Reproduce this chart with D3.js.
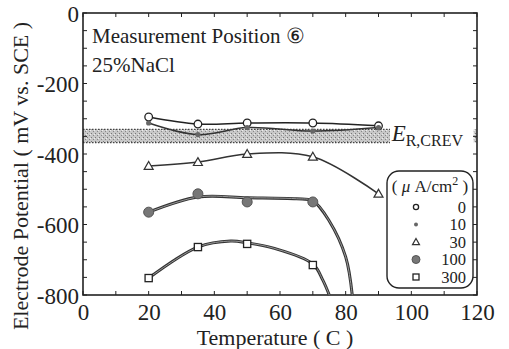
<!DOCTYPE html>
<html>
<head>
<meta charset="utf-8">
<script src="https://cdn.jsdelivr.net/npm/d3@7"></script>
<style>
  body { margin: 0; background: #fff; }
  svg text { font-family: "Liberation Serif", "DejaVu Serif", serif !important; fill: #222; }
</style>
</head>
<body>
<div id="container"></div>
<script>
// measured points (temperature C, potential mV)
let temps = [20, 35, 50, 70, 90],
  s0 = [-295, -315, -312, -312, -320],
  s10 = [-312, -345, -325, -335, -325],
  s30 = [-434, -423, -400, -408, -513],
  tempsHi = [20, 35, 50, 70],
  s100 = [-565, -513, -536, -536],
  s300 = [-752, -664, -655, -715]

// fitted curves (they run down to the axis)
let fit100 = [[20, -565], [35, -522], [50, -524], [65, -527], [70, -533], [75, -590], [80, -692], [82, -800]],
  fit300 = [[20, -752], [35, -664], [45, -647], [50, -652], [58, -667], [70, -712], [73, -757], [75, -800]]

let band = [-330, -368]   // E R,CREV band
let xTicks = [0, 20, 40, 60, 80, 100, 120],
  yTicks = [0, -200, -400, -600, -800],
  legendLabels = ['0', '10', '30', '100', '300']

let width = 509,
  height = 349,
  padding = { top: 13, left: 83, bottom: 54, right: 32 },
  w = width - padding.left - padding.right,
  h = height - padding.top - padding.bottom

let svg = d3.select('#container')
  .append('svg')
  .attr('width', width)
  .attr('height', height)

// stipple for the band
let pat = svg.append('defs').append('pattern')
  .attr('id', 'stip').attr('width', 4).attr('height', 4).attr('patternUnits', 'userSpaceOnUse')
pat.append('rect').attr('width', 4).attr('height', 4).attr('fill', '#c8c8c8')
pat.append('rect').attr('x', 0).attr('y', 0).attr('width', 1).attr('height', 1).attr('fill', '#777')
pat.append('rect').attr('x', 2).attr('y', 2).attr('width', 1).attr('height', 1).attr('fill', '#888')
pat.append('rect').attr('x', 3).attr('y', 1).attr('width', 1).attr('height', 1).attr('fill', '#eee')

let g = svg.append('g')
  .attr('transform', 'translate(' + padding.left + ',' + padding.top + ')')

let x = d3.scaleLinear().domain([0, 120]).range([0, w])
let y = d3.scaleLinear().domain([-800, 0]).range([h, 0])

// band
g.append('rect')
  .attr('x', 0).attr('width', x(93.5))
  .attr('y', y(band[0])).attr('height', y(band[1]) - y(band[0]))
  .attr('fill', 'url(#stip)')
g.append('rect')
  .attr('x', x(119)).attr('width', x(120) - x(119))
  .attr('y', y(band[0])).attr('height', y(band[1]) - y(band[0]))
  .attr('fill', 'url(#stip)')
;[band[0], band[1]].forEach(function (v) {
  g.append('line')
    .attr('x1', 0).attr('x2', x(93.5))
    .attr('y1', y(v)).attr('y2', y(v))
    .attr('stroke', '#444').attr('stroke-width', 1.2)
    .attr('stroke-dasharray', '1.5,1.5')
})

// ticks
let ticksX = d3.range(0, 121, 10), ticksY = d3.range(-800, 1, 50)
ticksX.forEach(function (t) {
  g.append('line').attr('x1', x(t)).attr('x2', x(t)).attr('y1', h).attr('y2', h - 4).attr('stroke', '#222')
  g.append('line').attr('x1', x(t)).attr('x2', x(t)).attr('y1', 0).attr('y2', 4).attr('stroke', '#222')
})
ticksY.forEach(function (t) {
  g.append('line').attr('x1', 0).attr('x2', 4).attr('y1', y(t)).attr('y2', y(t)).attr('stroke', '#222')
  g.append('line').attr('x1', w).attr('x2', w - 4).attr('y1', y(t)).attr('y2', y(t)).attr('stroke', '#222')
})

g.append('rect')
  .attr('width', w).attr('height', h)
  .attr('fill', 'none').attr('stroke', '#222').attr('stroke-width', 1.6)

let fmt = function (d) { return String(d) }
let xAxis = d3.axisBottom(x).tickValues(xTicks).tickFormat(fmt).tickSize(0).tickPadding(8)
let yAxis = d3.axisLeft(y).tickValues(yTicks).tickFormat(fmt).tickSize(0).tickPadding(4)
g.append('g').attr('transform', 'translate(0,' + h + ')').call(xAxis)
  .call(function (s) { s.select('.domain').remove() })
  .selectAll('text').style('font-size', '23px').attr('dy', '0.72em')
g.append('g').call(yAxis)
  .call(function (s) { s.select('.domain').remove() })
  .selectAll('text').style('font-size', '23px').attr('dy', '0.36em')

// lines
let line = d3.line()
  .x(function (d) { return x(d[0]) })
  .y(function (d) { return y(d[1]) })
  .curve(d3.curveCatmullRom)

let pair = function (xs, ys) { return xs.map(function (v, i) { return [v, ys[i]] }) }

g.append('path').attr('d', line(pair(temps, s0))).attr('fill', 'none').attr('stroke', '#222').attr('stroke-width', 1.5)
g.append('path').attr('d', line(pair(temps, s10))).attr('fill', 'none').attr('stroke', '#333').attr('stroke-width', 1.5)
g.append('path').attr('d', line(pair(temps, s30))).attr('fill', 'none').attr('stroke', '#333').attr('stroke-width', 1.5)
;[fit100, fit300].forEach(function (f) {
  g.append('path').attr('d', line(f)).attr('fill', 'none').attr('stroke', '#333').attr('stroke-width', 3)
  g.append('path').attr('d', line(f)).attr('fill', 'none').attr('stroke', '#999').attr('stroke-width', 1)
})

// markers
let marker = function (sel, type, cx, cy, big) {
  if (type === 0) {
    sel.append('circle').attr('cx', cx).attr('cy', cy).attr('r', big ? 3.8 : 2.6)
      .attr('fill', '#fff').attr('stroke', '#222').attr('stroke-width', 1.3)
  } else if (type === 1) {
    sel.append('circle').attr('cx', cx).attr('cy', cy).attr('r', big ? 2.6 : 2)
      .attr('fill', '#666')
  } else if (type === 2) {
    let s = big ? 4.5 : 3.5
    sel.append('path').attr('d', 'M' + cx + ',' + (cy - s) + 'L' + (cx + s) + ',' + (cy + s * 0.75) + 'L' + (cx - s) + ',' + (cy + s * 0.75) + 'Z')
      .attr('fill', '#fff').attr('stroke', '#333').attr('stroke-width', 1.2)
  } else if (type === 3) {
    sel.append('circle').attr('cx', cx).attr('cy', cy).attr('r', big ? 5 : 4)
      .attr('fill', '#777').attr('stroke', '#555')
  } else {
    let s = big ? 3.6 : 3
    sel.append('rect').attr('x', cx - s).attr('y', cy - s).attr('width', 2 * s).attr('height', 2 * s)
      .attr('fill', '#fff').attr('stroke', '#222').attr('stroke-width', 1.3)
  }
}

temps.forEach(function (t, i) { marker(g, 0, x(t), y(s0[i]), true) })
temps.forEach(function (t, i) { marker(g, 1, x(t), y(s10[i]), true) })
temps.forEach(function (t, i) { marker(g, 2, x(t), y(s30[i]), true) })
tempsHi.forEach(function (t, i) { marker(g, 3, x(t), y(s100[i]), true) })
tempsHi.forEach(function (t, i) { marker(g, 4, x(t), y(s300[i]), true) })

// texts
g.append('text').attr('x', 9).attr('y', 30).style('font-size', '21px').text('Measurement Position ⑥')
g.append('text').attr('x', 9).attr('y', 59).style('font-size', '21px').text('25%NaCl')

let er = g.append('text').attr('x', x(94)).attr('y', y(-362)).style('font-size', '23px')
er.append('tspan').style('font-style', 'italic').text('E')
er.append('tspan').attr('dy', 5).style('font-size', '16px').text('R,CREV')

svg.append('text')
  .attr('x', 275).attr('y', 345)
  .attr('text-anchor', 'middle').style('font-size', '22px')
  .text('Temperature ( C )')

svg.append('text')
  .attr('transform', 'translate(28,176) rotate(-90)')
  .attr('text-anchor', 'middle').style('font-size', '22px')
  .text('Electrode Potential ( mV vs. SCE )')

// legend
let lg = svg.append('g')
lg.append('rect')
  .attr('x', 387).attr('y', 171).attr('width', 86).attr('height', 117).attr('rx', 12)
  .attr('fill', '#fff').attr('stroke', '#222').attr('stroke-width', 1.4)
let lt = lg.append('text').attr('x', 430).attr('y', 192).attr('text-anchor', 'middle').style('font-size', '17px')
lt.append('tspan').text('( ')
lt.append('tspan').style('font-style', 'italic').text('μ')
lt.append('tspan').text(' A/cm')
lt.append('tspan').attr('dy', -7).style('font-size', '12px').text('2')
lt.append('tspan').attr('dy', 7).text(' )')
legendLabels.forEach(function (l, i) {
  let cy = 207 + i * 17.5
  marker(lg, i, 416, cy, false)
  lg.append('text').attr('x', 466).attr('y', cy + 5.5).attr('text-anchor', 'end').style('font-size', '16.5px').text(l)
})
</script>
</body>
</html>
